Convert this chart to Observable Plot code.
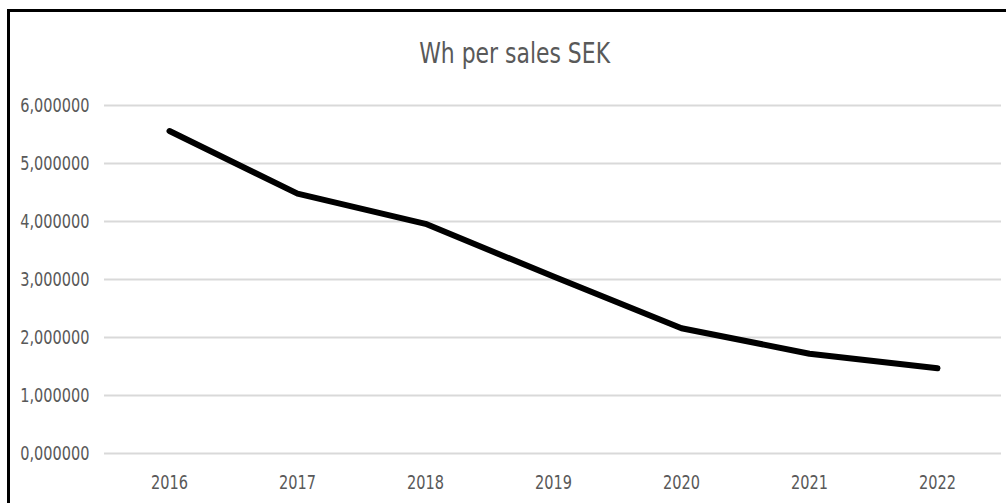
<!DOCTYPE html>
<html>
<head>
<meta charset="utf-8">
<script src="https://cdn.jsdelivr.net/npm/d3@7"></script>
<script src="https://cdn.jsdelivr.net/npm/@observablehq/plot@0.6"></script>
<style>
  html, body { margin: 0; padding: 0; background: #fff; width: 1006px; height: 503px; overflow: hidden; }
  #frame { position: absolute; left: 7px; top: 9px; width: 1020px; height: 520px; border: 3px solid #000; box-sizing: border-box; }
  #title { position: absolute; left: 15px; width: 1000px; top: 35px; text-align: center; }
  #title span { display: inline-block; transform: scaleX(0.84); transform-origin: center;
           font-family: "DejaVu Sans Condensed", sans-serif; font-size: 29px; color: #595959; line-height: 36px; }
  #chart { position: absolute; left: 0; top: 0; }
</style>
</head>
<body>
<div id="frame"></div>
<div id="title"><span>Wh per sales SEK</span></div>
<div id="chart"></div>
<script>
const years = ["2016", "2017", "2018", "2019", "2020", "2021", "2022"];
const whPerSek = [5.56, 4.48, 3.96, 3.05, 2.16, 1.72, 1.47];
const yTicks = [0, 1, 2, 3, 4, 5, 6];

const data = years.map((y, i) => ({year: y, value: whPerSek[i]}));
const fmt = d => d.toFixed(6).replace(".", ",");

const plot = Plot.plot({
  width: 1006,
  height: 503,
  marginLeft: 104,
  marginRight: 5,
  marginTop: 105,
  marginBottom: 50,
  style: {fontFamily: '"DejaVu Sans Condensed", sans-serif', fontSize: "19px", color: "#595959", background: "transparent"},
  x: {type: "point", domain: years, padding: 0.5, label: null},
  y: {domain: [0, 6], label: null},
  marks: [
    Plot.ruleY(yTicks, {stroke: "#d9d9d9", strokeWidth: 2}),
    Plot.axisY({ticks: yTicks, tickSize: 0, tickPadding: 15, tickFormat: fmt, label: null, fill: "#595959"}),
    Plot.axisX({tickSize: 0, tickPadding: 22, label: null, fill: "#595959"}),
    Plot.line(data, {x: "year", y: "value", stroke: "#000", strokeWidth: 6, strokeLinecap: "round", strokeLinejoin: "round"})
  ]
});
document.getElementById("chart").appendChild(plot);
// narrow the tick labels horizontally to match the condensed face of the original
plot.querySelectorAll("text").forEach(t => {
  const w = t.getComputedTextLength();
  if (w > 0) {
    t.setAttribute("textLength", (w * 0.85).toFixed(1));
    t.setAttribute("lengthAdjust", "spacingAndGlyphs");
  }
});
</script>
</body>
</html>
